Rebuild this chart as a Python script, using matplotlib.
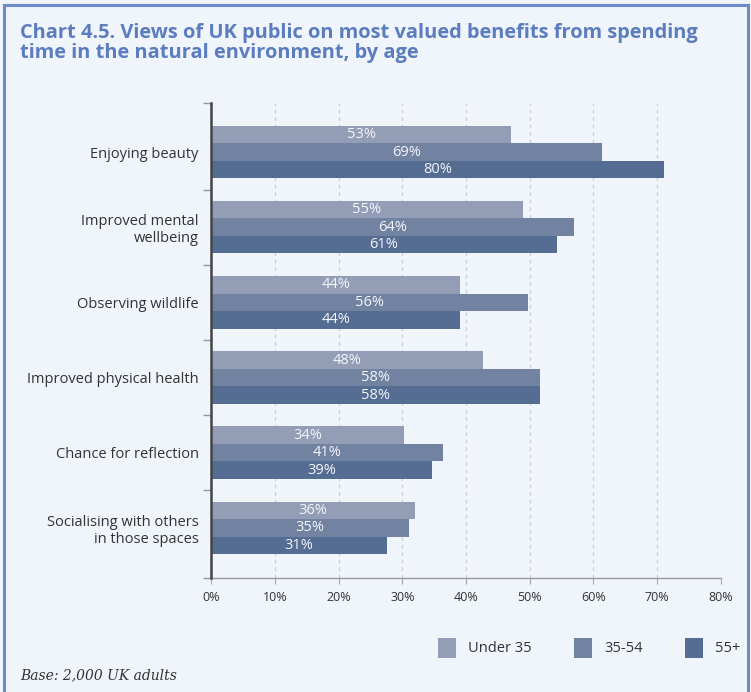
import matplotlib
matplotlib.use("Agg")
import matplotlib.pyplot as plt
from matplotlib.lines import Line2D
from matplotlib.ticker import FixedLocator
import numpy as np

categories = [
    "Enjoying beauty",
    "Improved mental\nwellbeing",
    "Observing wildlife",
    "Improved physical health",
    "Chance for reflection",
    "Socialising with others\nin those spaces",
]
series_names = ["Under 35", "35-54", "55+"]
under_35 = [53, 55, 44, 48, 34, 36]
age_35_54 = [69, 64, 56, 58, 41, 35]
age_55_plus = [80, 61, 44, 58, 39, 31]
tick_labels = ["0%", "10%", "20%", "30%", "40%", "50%", "60%", "70%", "80%"]

colors = ["#939db5", "#7282a1", "#556d92"]
bg = "#f0f4fb"
frame_blue = "#6b8cc9"
title_blue = "#5b7dbf"
text_dark = "#333333"

plt.rcParams["font.family"] = ["Open Sans", "DejaVu Sans"]

fig = plt.figure(figsize=(7.51, 6.92), dpi=100, facecolor=bg)

# panel frame (left, top, right edges)
for xs, ys in [([0.005, 0.005], [0.0, 0.993]),
               ([0.005, 0.996], [0.993, 0.993]),
               ([0.996, 0.996], [0.0, 0.993])]:
    fig.add_artist(Line2D(xs, ys, transform=fig.transFigure,
                          color=frame_blue, lw=2.2))

fig.text(0.026, 0.967,
         "Chart 4.5. Views of UK public on most valued benefits from spending\n"
         "time in the natural environment, by age",
         ha="left", va="top", fontsize=14.4, fontweight="bold",
         color=title_blue, linespacing=1.0)

ax = fig.add_axes([0.281, 0.1647, 0.679, 0.6865])
ax.set_facecolor(bg)

series = [under_35, age_35_54, age_55_plus]
y = np.arange(len(categories))
h = 0.233
offsets = [-h, 0.0, h]
for vals, off, col, name in zip(series, offsets, colors, series_names):
    bars = ax.barh(y + off, vals, height=h, color=col, label=name, zorder=3)
    ax.bar_label(bars, labels=[f"{v}%" for v in vals], label_type="center",
                 color="#f4f6fa", fontsize=10.5, zorder=4)

ax.set_ylim(5.667, -0.653)
ax.set_xlim(0, 90)

xticks = np.linspace(0, 90, len(tick_labels))
ax.set_xticks(xticks)
ax.set_xticklabels(tick_labels, fontsize=9, color=text_dark)
ax.tick_params(axis="x", length=4, color="#aaaaaa", pad=5)
for xt in xticks[1:]:
    ax.axvline(xt, color="#cfcfcf", lw=0.9, ls=(0, (3, 3)), zorder=1)

ax.set_yticks(y)
ax.set_yticklabels(categories, fontsize=10.5, color=text_dark)
ax.tick_params(axis="y", which="major", length=0, pad=9)
ax.yaxis.set_minor_locator(FixedLocator(list(np.arange(len(categories) - 1) + 0.5)
                                        + [-0.653, 5.667]))
ax.tick_params(axis="y", which="minor", length=6, color="#999999", width=1)

for s in ["top", "right"]:
    ax.spines[s].set_visible(False)
ax.spines["left"].set_color("#444444")
ax.spines["left"].set_linewidth(1.8)
ax.spines["left"].set_zorder(5)
ax.spines["bottom"].set_color("#999999")
ax.spines["bottom"].set_linewidth(1.0)

handles, labels = ax.get_legend_handles_labels()
fig.legend(handles, labels, loc="center left", bbox_to_anchor=(0.566, 0.064),
           ncol=3, frameon=False, handlelength=1.25, handleheight=1.7,
           handletextpad=0.8, columnspacing=2.9, fontsize=10.5,
           labelcolor=text_dark)

fig.text(0.027, 0.024, "Base: 2,000 UK adults", ha="left", va="center",
         fontsize=10, style="italic", family=["DejaVu Serif"], color=text_dark)

fig.savefig("out.png", dpi=100, facecolor=bg)
